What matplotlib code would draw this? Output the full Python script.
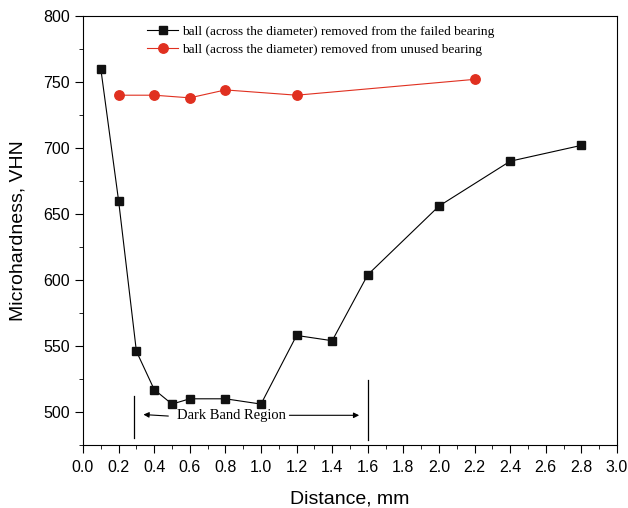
import numpy as np
import matplotlib
matplotlib.use('Agg')
import matplotlib.pyplot as plt
from matplotlib.ticker import MultipleLocator

# failed bearing ball
failedX = [0.1, 0.2, 0.3, 0.4, 0.5, 0.6, 0.8, 1.0, 1.2, 1.4, 1.6, 2.0, 2.4, 2.8]
failedY = [760, 660, 546, 517, 506, 510, 510, 506, 558, 554, 604, 656, 690, 702]

# unused bearing ball
unusedX = [0.2, 0.4, 0.6, 0.8, 1.2, 2.2]
unusedY = [740, 740, 738, 744, 740, 752]

failedLabel = "ball (across the diameter) removed from the failed bearing"
unusedLabel = "ball (across the diameter) removed from unused bearing"

plt.rcParams['font.family'] = ['Liberation Sans', 'DejaVu Sans']

fig = plt.figure(figsize = (6.28, 5.08), dpi = 100)
ax = fig.add_axes([83/628, 1 - 445/508, (617-83)/628, (445-16)/508])

ax.plot(failedX, failedY, color = 'black', lw = 0.8, marker = 's', ms = 6,
        markerfacecolor = '#111111', markeredgecolor = '#111111', label = failedLabel)
ax.plot(unusedX, unusedY, color = '#e03020', lw = 0.8, marker = 'o', ms = 6.8,
        markerfacecolor = '#e03020', markeredgecolor = '#e03020', label = unusedLabel)

ax.set_xlim(0, 3.0)
ax.set_ylim(475, 800)
ax.xaxis.set_major_locator(MultipleLocator(0.2))
ax.xaxis.set_minor_locator(MultipleLocator(0.1))
ax.yaxis.set_major_locator(MultipleLocator(50))
ax.yaxis.set_minor_locator(MultipleLocator(25))
ax.xaxis.set_major_formatter(matplotlib.ticker.FormatStrFormatter('%.1f'))
ax.tick_params(which = 'major', direction = 'out', length = 6, labelsize = 11.5, top = False, right = False)
ax.tick_params(which = 'major', axis = 'x', pad = 5)
ax.tick_params(which = 'minor', direction = 'out', length = 3, top = False, right = False)

ax.set_xlabel("Distance, mm", fontsize = 14, labelpad = 11)
ax.set_ylabel("Microhardness, VHN", fontsize = 14, labelpad = 12)

# dark band region annotation
ax.plot([0.287, 0.287], [480, 512], color = 'black', lw = 0.9)
ax.plot([1.6, 1.6], [479, 524], color = 'black', lw = 0.9)
ax.text(0.834, 497.5, "Dark Band Region", family = 'Liberation Serif', fontsize = 10.5,
        ha = 'center', va = 'center')
ax.annotate("", xy = (0.324, 498.2), xytext = (0.495, 496.8),
            arrowprops = dict(arrowstyle = '-|>', color = 'black', lw = 0.8, mutation_scale = 8))
ax.annotate("", xy = (1.567, 497.5), xytext = (1.144, 497.5),
            arrowprops = dict(arrowstyle = '-|>', color = 'black', lw = 0.8, mutation_scale = 8))

leg = ax.legend(loc = 'upper left', bbox_to_anchor = (0.103, 1.0), frameon = False,
                prop = {'family': 'Liberation Serif', 'size': 9.6}, handlelength = 2.3,
                handletextpad = 0.3, labelspacing = 0.42, borderaxespad = 0.3)

fig.savefig("out.png", dpi = 100)
